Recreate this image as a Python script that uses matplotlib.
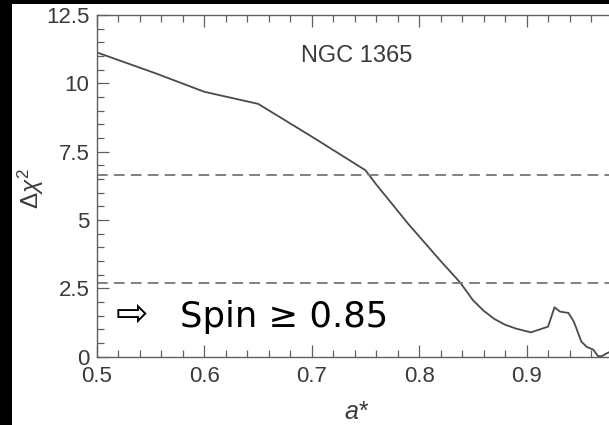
import matplotlib
matplotlib.use("Agg")
import matplotlib.pyplot as plt
from matplotlib.patches import Rectangle
from matplotlib.ticker import MultipleLocator

# Delta chi^2 profile versus spin parameter a*
spin = [0.50, 0.555, 0.60, 0.65, 0.70, 0.75, 0.76, 0.79, 0.82, 0.838, 0.85,
        0.86, 0.87, 0.88, 0.89, 0.904, 0.920, 0.926, 0.931, 0.939, 0.944,
        0.951, 0.956, 0.962, 0.9665, 0.970, 0.9745, 0.98]
dchi2 = [11.13, 10.36, 9.69, 9.25, 8.05, 6.82, 6.30, 4.85, 3.50, 2.72, 2.07,
         1.68, 1.38, 1.17, 1.03, 0.89, 1.10, 1.81, 1.65, 1.60, 1.28,
         0.55, 0.36, 0.26, 0.02, 0.02, 0.12, 0.22]

# Confidence levels (90% and 99%)
levels = [2.71, 6.63]

xticks = [0.5, 0.6, 0.7, 0.8, 0.9]
yticks = [0, 2.5, 5, 7.5, 10, 12.5]
yticklabels = ["0", "2.5", "5", "7.5", "10", "12.5"]

plt.rcParams["mathtext.fontset"] = "custom"
plt.rcParams["mathtext.rm"] = "Liberation Sans"
plt.rcParams["mathtext.it"] = "Liberation Sans:italic"

W, H = 609, 425
fig = plt.figure(figsize=(W / 100, H / 100), dpi=100, facecolor="black")
fig.patches.append(Rectangle((12 / W, 0), 1, 1 - 4 / H, transform=fig.transFigure,
                             facecolor="white", edgecolor="none", zorder=-10))

x0, x1 = 97, 97 + 537
y0, y1 = 356.7, 15
ax = fig.add_axes([x0 / W, 1 - y0 / H, (x1 - x0) / W, (y0 - y1) / H])
ax.set_facecolor("white")

axis_col = "#606060"
text_col = "#3a3a3a"

ax.plot(spin, dchi2, color="#4a4a4a", lw=1.3, clip_on=True)
for lv in levels:
    ax.axhline(lv, color="#808080", lw=1.4, dashes=(5.5, 3.2))

ax.set_xlim(0.5, 1.0)
ax.set_ylim(0, 12.5)
ax.set_xticks(xticks)
ax.set_xticklabels([f"{v:.1f}" for v in xticks])
ax.set_yticks(yticks)
ax.set_yticklabels(yticklabels)
ax.xaxis.set_minor_locator(MultipleLocator(0.02))
ax.yaxis.set_minor_locator(MultipleLocator(0.5))

for s in ax.spines.values():
    s.set_color(axis_col)
    s.set_linewidth(1.0)

ax.tick_params(which="both", direction="in", top=True, right=True,
               color=axis_col, width=0.9)
ax.tick_params(which="major", length=8.5)
ax.tick_params(axis="y", which="major", pad=5.5)
ax.tick_params(axis="x", which="major", pad=7)
ax.tick_params(which="minor", length=5)
for lab in ax.get_xticklabels() + ax.get_yticklabels():
    lab.set_fontfamily("Liberation Sans")
    lab.set_fontsize(16)
    lab.set_color(text_col)

ax.set_ylabel(r"$\Delta\chi^2$", fontsize=17.5, color=text_col)
ax.yaxis.set_label_coords((46 - x0) / (x1 - x0), (y0 - 188) / (y0 - y1))
ax.set_xlabel("a*", fontsize=18, color=text_col, style="italic",
              fontfamily="Liberation Sans", va="center")
ax.xaxis.set_label_coords((356 - x0) / (x1 - x0), (y0 - 412) / (y0 - y1))

ax.text((356.7 - x0) / (x1 - x0), (y0 - 61.7) / (y0 - y1), "NGC 1365",
        transform=ax.transAxes, ha="center", va="baseline",
        fontsize=17, fontfamily="Liberation Sans", color=text_col)

ax.text((132 - x0) / (x1 - x0), (y0 - 315) / (y0 - y1), "\u21e8",
        transform=ax.transAxes, ha="center", va="center",
        fontsize=28, fontfamily="DejaVu Sans", color="black")
ax.text((180 - x0) / (x1 - x0), (y0 - 327.3) / (y0 - y1), "Spin \u2265 0.85",
        transform=ax.transAxes, ha="left", va="baseline",
        fontsize=25.5, fontfamily="DejaVu Sans", color="black")

fig.savefig("out.png", dpi=100, facecolor=fig.get_facecolor())
